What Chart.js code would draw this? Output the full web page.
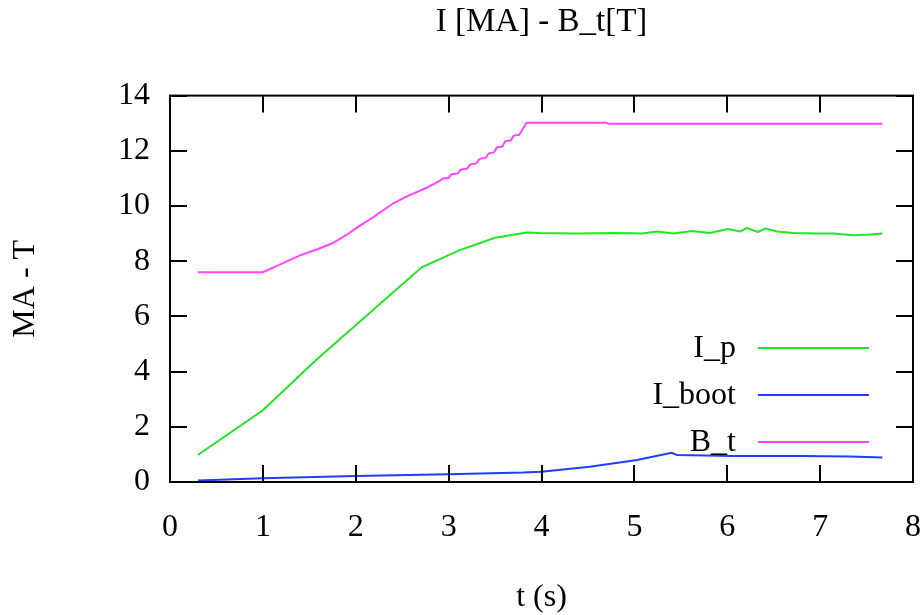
<!DOCTYPE html>
<html>
<head>
<meta charset="utf-8">
<script src="https://cdn.jsdelivr.net/npm/chart.js@4/dist/chart.umd.min.js"></script>
<style>
  html, body { margin: 0; padding: 0; background: #fff; }
  #wrap { width: 920px; height: 615px; }
</style>
</head>
<body>
<div id="wrap"><canvas id="chart" width="920" height="615"></canvas></div>
<script>
/* ─── Data ────────────────────────────────────────────────────────────── */
const CHART_TITLE = "I [MA] - B_t[T]";
const X_TITLE = "t (s)";
const Y_TITLE = "MA - T";
const SERIES_LABELS = ["I_p", "I_boot", "B_t"];

const X_TICKS = [0, 1, 2, 3, 4, 5, 6, 7, 8];
const Y_TICKS = [0, 2, 4, 6, 8, 10, 12, 14];

// plasma current I_p [MA]
const tIp = [0.30, 1.00, 1.57, 2.71, 3.12, 3.50, 3.84, 3.98, 4.38, 4.80, 5.09, 5.24, 5.42,
             5.62, 5.81, 6.01, 6.14, 6.21, 6.33, 6.41, 6.54, 6.71, 6.97, 7.14, 7.35, 7.54, 7.67];
const vIp = [0.98, 2.60, 4.41, 7.78, 8.40, 8.85, 9.04, 9.02, 9.00, 9.02, 9.00, 9.08, 9.00,
             9.09, 9.02, 9.17, 9.08, 9.20, 9.06, 9.18, 9.08, 9.02, 9.00, 9.00, 8.94, 8.97, 9.00];

// bootstrap current I_boot [MA]
const tIboot = [0.30, 1.00, 2.00, 3.00, 3.80, 4.00, 4.52, 5.03, 5.40, 5.46, 6.06, 6.78, 7.32, 7.67];
const vIboot = [0.05, 0.14, 0.22, 0.28, 0.34, 0.37, 0.55, 0.80, 1.06, 0.98, 0.94, 0.94, 0.92, 0.89];

// toroidal field B_t [T]
const tBt = [0.30, 1.00, 1.20, 1.40, 1.60, 1.75, 1.90, 2.05, 2.20, 2.40, 2.55, 2.77,
             2.90, 2.94, 3.00, 3.03, 3.10, 3.13, 3.20, 3.23, 3.30, 3.33, 3.40, 3.43,
             3.49, 3.52, 3.58, 3.61, 3.67, 3.70, 3.76, 3.80, 3.84, 4.70, 4.72, 7.67];
const vBt = [7.60, 7.60, 7.90, 8.21, 8.45, 8.65, 8.95, 9.30, 9.62, 10.09, 10.35, 10.67,
             10.90, 11.00, 11.02, 11.15, 11.18, 11.32, 11.36, 11.50, 11.55, 11.70, 11.75, 11.90,
             11.95, 12.12, 12.16, 12.35, 12.38, 12.55, 12.58, 12.80, 13.02, 13.02, 12.98, 12.98];

const COLORS = ["#22e622", "#1f3dff", "#ff44ff"];
const FONT = "'Liberation Serif', 'Times New Roman', serif";

const toPoints = (ts, vs) => ts.map((t, i) => ({ x: t, y: vs[i] }));

/* ─── Plugins ─────────────────────────────────────────────────────────── */
// gnuplot style frame with inward ticks on all four sides
const framePlugin = {
  id: "frame",
  afterDatasetsDraw(chart) {
    const { ctx, chartArea: a, scales } = chart;
    const len = 17;
    ctx.save();
    ctx.strokeStyle = "#000";
    ctx.lineWidth = 2;
    ctx.beginPath();
    X_TICKS.forEach(v => {
      const px = Math.round(scales.x.getPixelForValue(v));
      ctx.moveTo(px, a.bottom); ctx.lineTo(px, a.bottom - len);
      ctx.moveTo(px, a.top);    ctx.lineTo(px, a.top + len);
    });
    Y_TICKS.forEach(v => {
      const py = Math.round(scales.y.getPixelForValue(v));
      ctx.moveTo(a.left, py);  ctx.lineTo(a.left + len, py);
      ctx.moveTo(a.right, py); ctx.lineTo(a.right - len, py);
    });
    ctx.stroke();
    ctx.strokeRect(a.left, a.top, a.right - a.left, a.bottom - a.top);
    ctx.restore();
  },
};

// legend inside the plot, text right-aligned before a line sample
const keyPlugin = {
  id: "key",
  afterDatasetsDraw(chart) {
    const { ctx, chartArea: a } = chart;
    ctx.save();
    ctx.font = `32px ${FONT}`;
    ctx.textAlign = "right";
    ctx.textBaseline = "middle";
    chart.data.datasets.forEach((ds, i) => {
      const y = a.bottom - 134 + i * 47;
      ctx.fillStyle = "#000";
      ctx.fillText(ds.label, a.right - 177, y + 1);
      ctx.strokeStyle = ds.borderColor;
      ctx.lineWidth = 2;
      ctx.beginPath();
      ctx.moveTo(a.right - 155, y);
      ctx.lineTo(a.right - 44, y);
      ctx.stroke();
    });
    ctx.restore();
  },
};

/* ─── Chart ───────────────────────────────────────────────────────────── */
const ctx = document.getElementById("chart").getContext("2d");
new Chart(ctx, {
  type: "line",
  data: {
    datasets: [
      { label: SERIES_LABELS[0], data: toPoints(tIp, vIp) },
      { label: SERIES_LABELS[1], data: toPoints(tIboot, vIboot) },
      { label: SERIES_LABELS[2], data: toPoints(tBt, vBt) },
    ].map((d, i) => ({
      ...d,
      borderColor: COLORS[i],
      backgroundColor: COLORS[i],
      borderWidth: 2,
      pointRadius: 0,
      tension: 0,
      fill: false,
    })),
  },
  options: {
    responsive: false,
    animation: false,
    layout: { padding: { left: 0, right: 7, top: 0, bottom: 0 } },
    plugins: {
      legend: { display: false },
      tooltip: { enabled: false },
      title: {
        display: true,
        fullSize: false,
        text: CHART_TITLE,
        color: "#000",
        font: { family: FONT, size: 33, weight: "normal" },
        padding: { top: 3, bottom: 53 },
      },
    },
    scales: {
      x: {
        type: "linear",
        min: 0, max: 8,
        afterBuildTicks: s => { s.ticks = X_TICKS.map(v => ({ value: v })); },
        afterFit: s => { s.height = 133; s.paddingLeft = 0; s.paddingRight = 0; },
        grid: { display: false, drawTicks: false },
        border: { display: false },
        ticks: { color: "#000", padding: 26, maxRotation: 0, autoSkip: false,
                 font: { family: FONT, size: 32 } },
        title: { display: true, text: X_TITLE, color: "#000",
                 font: { family: FONT, size: 32, lineHeight: 1.1 },
                 padding: { top: 0, bottom: 0 } },
      },
      y: {
        min: 0, max: 14,
        afterBuildTicks: s => { s.ticks = Y_TICKS.map(v => ({ value: v })); },
        afterFit: s => { s.width = 170; s.paddingTop = 0; s.paddingBottom = 0; },
        grid: { display: false, drawTicks: false },
        border: { display: false },
        ticks: { color: "#000", padding: 20, font: { family: FONT, size: 32 } },
        title: { display: true, text: Y_TITLE, color: "#000",
                 font: { family: FONT, size: 32 },
                 padding: { top: 6, bottom: 0 } },
      },
    },
  },
  plugins: [framePlugin, keyPlugin],
});
</script>
</body>
</html>
